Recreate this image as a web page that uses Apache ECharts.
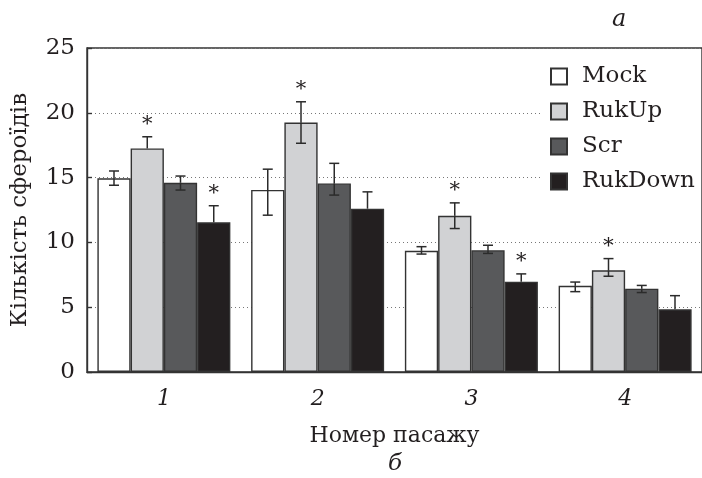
<!DOCTYPE html>
<html>
<head>
<meta charset="utf-8">
<style>
  html, body { margin: 0; padding: 0; background: #fff; }
  #chart { width: 702px; height: 478px; }
</style>
<script src="https://cdn.jsdelivr.net/npm/echarts@6/dist/echarts.min.js"></script>
</head>
<body>
<div id="chart"></div>
<script>
// data
var passages = ['1', '2', '3', '4']
var seriesNames = ['Mock', 'RukUp', 'Scr', 'RukDown']
var mockVals = [14.95, 14.05, 9.35, 6.65]
var rukUpVals = [17.25, 19.25, 12.05, 7.85]
var scrVals = [14.6, 14.55, 9.4, 6.43]
var rukDownVals = [11.55, 12.6, 6.97, 4.84]
// error bars (upper / lower part)
var mockErrUp = [0.56, 1.6, 0.32, 0.29]
var mockErrDown = [0.54, 1.95, 0.25, 0.45]
var rukUpErrUp = [0.9, 1.6, 1.0, 0.9]
var rukUpErrDown = [0, 1.6, 0.98, 0.46]
var scrErrUp = [0.52, 1.55, 0.38, 0.25]
var scrErrDown = [0.56, 0.9, 0.25, 0.3]
var rukDownErrUp = [1.28, 1.3, 0.6, 1.05]
var rukDownErrDown = [0, 0, 0, 0]
// significance marks (*)
var mockStar = [0, 0, 0, 0]
var rukUpStar = [1, 1, 1, 1]
var scrStar = [0, 0, 0, 0]
var rukDownStar = [1, 0, 1, 0]
var yTicks = [0, 5, 10, 15, 20, 25]

var values = [mockVals, rukUpVals, scrVals, rukDownVals]
var errUp = [mockErrUp, rukUpErrUp, scrErrUp, rukDownErrUp]
var errDown = [mockErrDown, rukUpErrDown, scrErrDown, rukDownErrDown]
var stars = [mockStar, rukUpStar, scrStar, rukDownStar]
var colors = ['#ffffff', '#d1d2d4', '#58595b', '#231f20']

var FONT = 'DejaVu Serif'
var INK = '#231f20'
var CAT_GAP = 0.135

var chart = echarts.init(document.getElementById('chart'))

var series = []
seriesNames.forEach(function(name, s) {
  series.push({
    name: name,
    type: 'bar',
    data: values[s],
    barGap: '0%',
    barCategoryGap: (CAT_GAP * 100) + '%',
    itemStyle: { color: colors[s], borderColor: '#333', borderWidth: 1.4 },
    emphasis: { disabled: true },
    z: 2
  })
})

// error bars + stars for each series
seriesNames.forEach(function(name, s) {
  var data = values[s].map(function(v, i) {
    return [i, v, errUp[s][i], errDown[s][i], stars[s][i]]
  })
  series.push({
    type: 'custom',
    data: data,
    z: 5,
    silent: true,
    renderItem: function(params, api) {
      var cat = api.value(0)
      var v = api.value(1)
      var top = api.coord([cat, v + api.value(2)])
      var bot = api.coord([cat, v - api.value(3)])
      var mid = api.coord([cat, v])
      var band = api.size([1, 0])[0]
      var bw = band * (1 - CAT_GAP) / 4
      var x = mid[0] - 2 * bw + bw * (s + 0.5)
      var cap = 5
      var st = { stroke: '#2b2b2b', lineWidth: 1.5 }
      var kids = []
      if (api.value(2) > 0) {
        kids.push({ type: 'line', shape: { x1: x, y1: mid[1], x2: x, y2: top[1] }, style: st })
        kids.push({ type: 'line', shape: { x1: x - cap, y1: top[1], x2: x + cap, y2: top[1] }, style: st })
      }
      if (api.value(3) > 0) {
        kids.push({ type: 'line', shape: { x1: x, y1: mid[1], x2: x, y2: bot[1] }, style: st })
        kids.push({ type: 'line', shape: { x1: x - cap, y1: bot[1], x2: x + cap, y2: bot[1] }, style: st })
      }
      if (api.value(4)) {
        kids.push({
          type: 'text',
          style: {
            x: x, y: top[1] - 2, text: '*',
            font: '21px "' + FONT + '"', fill: INK,
            align: 'center', verticalAlign: 'bottom'
          }
        })
      }
      return { type: 'group', children: kids }
    }
  })
})

var options = {
  animation: false,
  grid: {
    left: 87,
    top: 48,
    width: 620,
    height: 324,
    show: true,
    borderColor: '#333',
    borderWidth: 1.4
  },
  legend: {
    data: seriesNames,
    orient: 'vertical',
    left: 542,
    top: 55,
    padding: [10, 6, 8, 8],
    backgroundColor: '#fff',
    itemWidth: 16,
    itemHeight: 16,
    itemGap: 12,
    icon: 'rect',
    selectedMode: false,
    textStyle: {
      fontFamily: FONT,
      fontSize: 23,
      lineHeight: 23,
      color: INK,
      padding: [0, 0, 0, 10]
    },
    z: 10
  },
  xAxis: {
    type: 'category',
    data: passages,
    name: 'Номер пасажу',
    nameLocation: 'middle',
    nameGap: 53,
    nameTextStyle: { fontFamily: FONT, fontSize: 22, color: INK },
    axisLine: { lineStyle: { color: '#333', width: 1.4 } },
    axisTick: { show: false },
    axisLabel: {
      fontFamily: FONT,
      fontStyle: 'italic',
      fontSize: 22,
      color: INK,
      margin: 16
    }
  },
  yAxis: {
    type: 'value',
    min: yTicks[0],
    max: yTicks[yTicks.length - 1],
    interval: 5,
    name: 'Кількість сфероїдів',
    nameLocation: 'middle',
    nameGap: 55,
    nameTextStyle: { fontFamily: FONT, fontSize: 23, color: INK },
    axisLine: { show: true, lineStyle: { color: '#333', width: 1.4 } },
    axisTick: { show: true, inside: true, length: 5, lineStyle: { color: '#333', width: 1.4 } },
    axisLabel: { fontFamily: FONT, fontSize: 23, color: INK, margin: 12 },
    splitLine: { show: true, lineStyle: { color: '#777', width: 1, type: [1, 3] } }
  },
  graphic: [
    {
      type: 'text',
      left: 612,
      top: 8,
      style: { text: 'a', font: 'italic 24px "' + FONT + '"', fill: INK }
    },
    {
      type: 'text',
      left: 388,
      top: 453,
      style: { text: 'б', font: 'italic 23px "' + FONT + '"', fill: INK }
    }
  ],
  series: series
}

chart.setOption(options)
</script>
</body>
</html>
